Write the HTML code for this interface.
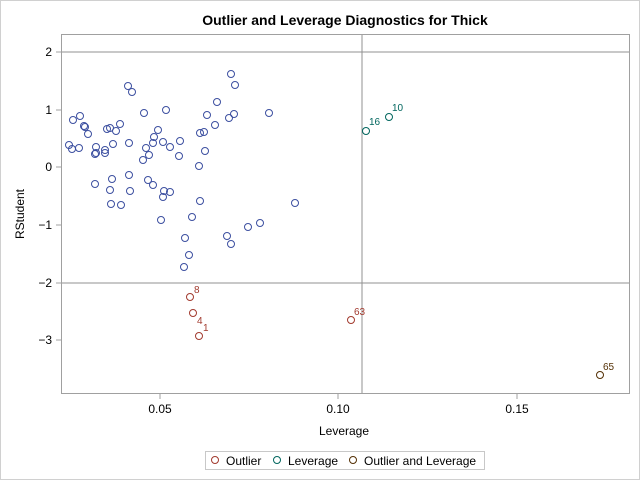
<!DOCTYPE html>
<html><head><meta charset="utf-8"><style>
body{margin:0;background:#fff}
svg{display:block;font-family:"Liberation Sans",Arial,sans-serif}
</style></head><body>
<svg width="640" height="480" viewBox="0 0 640 480" xmlns="http://www.w3.org/2000/svg">
<rect x="0.5" y="0.5" width="639" height="479" fill="#fff" stroke="#d0d0d0"/>
<text x="345" y="25" text-anchor="middle" font-size="14" font-weight="bold" fill="#000">Outlier and Leverage Diagnostics for Thick</text>
<rect x="61.5" y="34.5" width="568" height="359" fill="none" stroke="#a0a0a0"/>
<line x1="362" y1="35" x2="362" y2="393" stroke="#909090"/>
<line x1="62" y1="52" x2="629" y2="52" stroke="#909090"/>
<line x1="62" y1="283" x2="629" y2="283" stroke="#909090"/>
<g stroke="#a0a0a0">
<line x1="56" y1="52" x2="61" y2="52"/><line x1="56" y1="110" x2="61" y2="110"/><line x1="56" y1="167" x2="61" y2="167"/><line x1="56" y1="225" x2="61" y2="225"/><line x1="56" y1="283" x2="61" y2="283"/><line x1="56" y1="340" x2="61" y2="340"/>
<line x1="160" y1="394" x2="160" y2="399"/><line x1="338" y1="394" x2="338" y2="399"/><line x1="517" y1="394" x2="517" y2="399"/>
</g>
<g font-size="12" fill="#000" text-anchor="end">
<text x="52" y="56">2</text><text x="52" y="114">1</text><text x="52" y="171">0</text><text x="52" y="229">−1</text><text x="52" y="287">−2</text><text x="52" y="344">−3</text>
</g>
<g font-size="12" fill="#000" text-anchor="middle">
<text x="160" y="413">0.05</text><text x="338" y="413">0.10</text><text x="517" y="413">0.15</text>
<text x="344" y="435">Leverage</text>
</g>
<text transform="translate(24,214) rotate(-90)" font-size="12" text-anchor="middle" fill="#000">RStudent</text>
<g fill="none" stroke="#3c4fa0" stroke-width="1">
<circle cx="231" cy="74" r="3.5"/><circle cx="235" cy="85" r="3.5"/><circle cx="128" cy="86" r="3.5"/><circle cx="132" cy="92" r="3.5"/><circle cx="217" cy="102" r="3.5"/><circle cx="144" cy="113" r="3.5"/><circle cx="166" cy="110" r="3.5"/><circle cx="269" cy="113" r="3.5"/><circle cx="207" cy="115" r="3.5"/><circle cx="234" cy="114" r="3.5"/><circle cx="229" cy="118" r="3.5"/><circle cx="73" cy="120" r="3.5"/><circle cx="80" cy="116" r="3.5"/><circle cx="84" cy="126" r="3.5"/><circle cx="85" cy="127" r="3.5"/><circle cx="88" cy="134" r="3.5"/><circle cx="120" cy="124" r="3.5"/><circle cx="107" cy="129" r="3.5"/><circle cx="110" cy="128" r="3.5"/><circle cx="116" cy="131" r="3.5"/><circle cx="158" cy="130" r="3.5"/><circle cx="215" cy="125" r="3.5"/><circle cx="200" cy="133" r="3.5"/><circle cx="204" cy="132" r="3.5"/><circle cx="154" cy="137" r="3.5"/><circle cx="69" cy="145" r="3.5"/><circle cx="72" cy="149" r="3.5"/><circle cx="79" cy="148" r="3.5"/><circle cx="96" cy="147" r="3.5"/><circle cx="95" cy="154" r="3.5"/><circle cx="96" cy="153" r="3.5"/><circle cx="105" cy="150" r="3.5"/><circle cx="105" cy="153" r="3.5"/><circle cx="113" cy="144" r="3.5"/><circle cx="129" cy="143" r="3.5"/><circle cx="146" cy="148" r="3.5"/><circle cx="153" cy="143" r="3.5"/><circle cx="163" cy="142" r="3.5"/><circle cx="170" cy="147" r="3.5"/><circle cx="180" cy="141" r="3.5"/><circle cx="149" cy="155" r="3.5"/><circle cx="143" cy="160" r="3.5"/><circle cx="179" cy="156" r="3.5"/><circle cx="205" cy="151" r="3.5"/><circle cx="199" cy="166" r="3.5"/><circle cx="95" cy="184" r="3.5"/><circle cx="112" cy="179" r="3.5"/><circle cx="129" cy="175" r="3.5"/><circle cx="148" cy="180" r="3.5"/><circle cx="153" cy="185" r="3.5"/><circle cx="110" cy="190" r="3.5"/><circle cx="130" cy="191" r="3.5"/><circle cx="164" cy="191" r="3.5"/><circle cx="170" cy="192" r="3.5"/><circle cx="163" cy="197" r="3.5"/><circle cx="111" cy="204" r="3.5"/><circle cx="121" cy="205" r="3.5"/><circle cx="200" cy="201" r="3.5"/><circle cx="295" cy="203" r="3.5"/><circle cx="192" cy="217" r="3.5"/><circle cx="161" cy="220" r="3.5"/><circle cx="248" cy="227" r="3.5"/><circle cx="260" cy="223" r="3.5"/><circle cx="227" cy="236" r="3.5"/><circle cx="231" cy="244" r="3.5"/><circle cx="185" cy="238" r="3.5"/><circle cx="189" cy="255" r="3.5"/><circle cx="184" cy="267" r="3.5"/>
</g>
<g fill="none" stroke="#a23a2e"><circle cx="190" cy="297" r="3.5"/><circle cx="193" cy="313" r="3.5"/><circle cx="199" cy="336" r="3.5"/><circle cx="351" cy="320" r="3.5"/></g>
<g font-size="10" fill="#a23a2e"><text x="194" y="293">8</text><text x="197" y="324">4</text><text x="203" y="331">1</text><text x="354" y="315">63</text></g>
<g fill="none" stroke="#01665e"><circle cx="389" cy="117" r="3.5"/><circle cx="366" cy="131" r="3.5"/></g>
<g font-size="10" fill="#01665e"><text x="392" y="111">10</text><text x="369" y="125">16</text></g>
<circle cx="600" cy="375" r="3.5" fill="none" stroke="#543005"/>
<text x="603" y="370" font-size="10" fill="#543005">65</text>
<rect x="205.5" y="451.5" width="279" height="18" fill="#fff" stroke="#c8c8c8"/>
<circle cx="215" cy="460" r="3.5" fill="none" stroke="#a23a2e"/>
<text x="226" y="465" font-size="12" fill="#000">Outlier</text>
<circle cx="277" cy="460" r="3.5" fill="none" stroke="#01665e"/>
<text x="288" y="465" font-size="12" fill="#000">Leverage</text>
<circle cx="353" cy="460" r="3.5" fill="none" stroke="#543005"/>
<text x="364" y="465" font-size="12" fill="#000">Outlier and Leverage</text>
</svg>
</body></html>
